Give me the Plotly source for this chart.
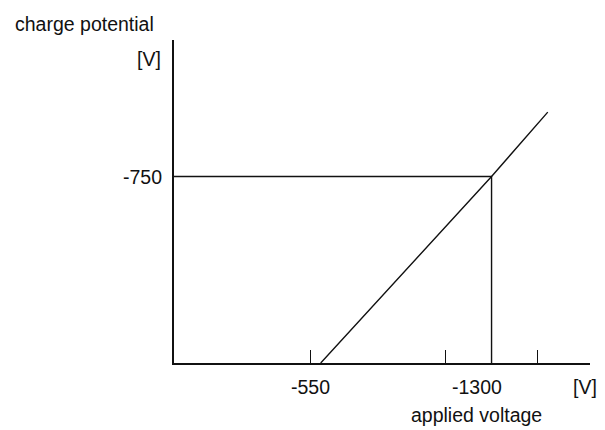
import plotly.graph_objects as go

# Data
line_x = [-592, -1300, -1533]      # applied voltage [V]
line_y = [0, -750, -1009]          # charge potential [V]
guide_x_value = -1300
guide_y_value = -750
x_tick_vals = [-550, -1110, -1490]
x_labels = ["-550", "-1300"]
x_label_vals = [-550, -1300]
y_label = "-750"

x_range = [16, -1708]
y_range = [0, -1299]

FONT = "Liberation Sans, Arial, sans-serif"
FS = 19.5
INK = "#111111"

fig = go.Figure()

# guide lines: horizontal at -750 and vertical at -1300
fig.add_trace(go.Scatter(
    x=[x_range[0], guide_x_value, guide_x_value],
    y=[guide_y_value, guide_y_value, 0],
    mode="lines", line=dict(color=INK, width=1.4),
    hoverinfo="skip", showlegend=False, cliponaxis=False))

# main characteristic line
fig.add_trace(go.Scatter(
    x=line_x, y=line_y, mode="lines",
    line=dict(color=INK, width=1.4),
    showlegend=False, cliponaxis=False))

fig.update_xaxes(
    range=x_range, showgrid=False, zeroline=False,
    showline=True, linecolor=INK, linewidth=1.5,
    ticks="inside", ticklen=13, tickwidth=1.2, tickcolor=INK,
    tickvals=x_tick_vals, showticklabels=False)
fig.update_yaxes(
    range=y_range, showgrid=False, zeroline=False,
    showline=True, linecolor=INK, linewidth=1.5,
    ticks="", showticklabels=False)

ann = []
font = dict(family=FONT, size=FS, color=INK)
# x labels
for v, t in zip(x_label_vals, x_labels):
    shift = -15 if v == -1300 else 0
    ann.append(dict(x=v, y=0, xref="x", yref="paper", text=t, showarrow=False,
                    xanchor="center", yanchor="middle", xshift=shift, yshift=-24, font=font))
ann.append(dict(x=0.988, y=0, xref="paper", yref="paper", text="[V]", showarrow=False,
                xanchor="center", yanchor="middle", yshift=-24, font=font))
ann.append(dict(x=-1300, y=0, xref="x", yref="paper", text="applied voltage", showarrow=False,
                xanchor="center", yanchor="middle", xshift=-15, yshift=-52, font=font))
# y labels
ann.append(dict(x=0, y=guide_y_value, xref="paper", yref="y", text=y_label, showarrow=False,
                xanchor="right", yanchor="middle", xshift=-10, yshift=0, font=font))
ann.append(dict(x=0, y=1, xref="paper", yref="paper", text="[V]", showarrow=False,
                xanchor="right", yanchor="middle", xshift=-11, yshift=-19, font=font))
ann.append(dict(x=0, y=1, xref="paper", yref="paper", text="charge potential", showarrow=False,
                xanchor="left", yanchor="middle", xshift=-161, yshift=16, font=font))

fig.update_layout(
    width=597, height=422,
    margin=dict(l=166, r=15, t=32, b=67),
    paper_bgcolor="white", plot_bgcolor="white",
    annotations=ann, font=font)

fig.write_html("out.html")
